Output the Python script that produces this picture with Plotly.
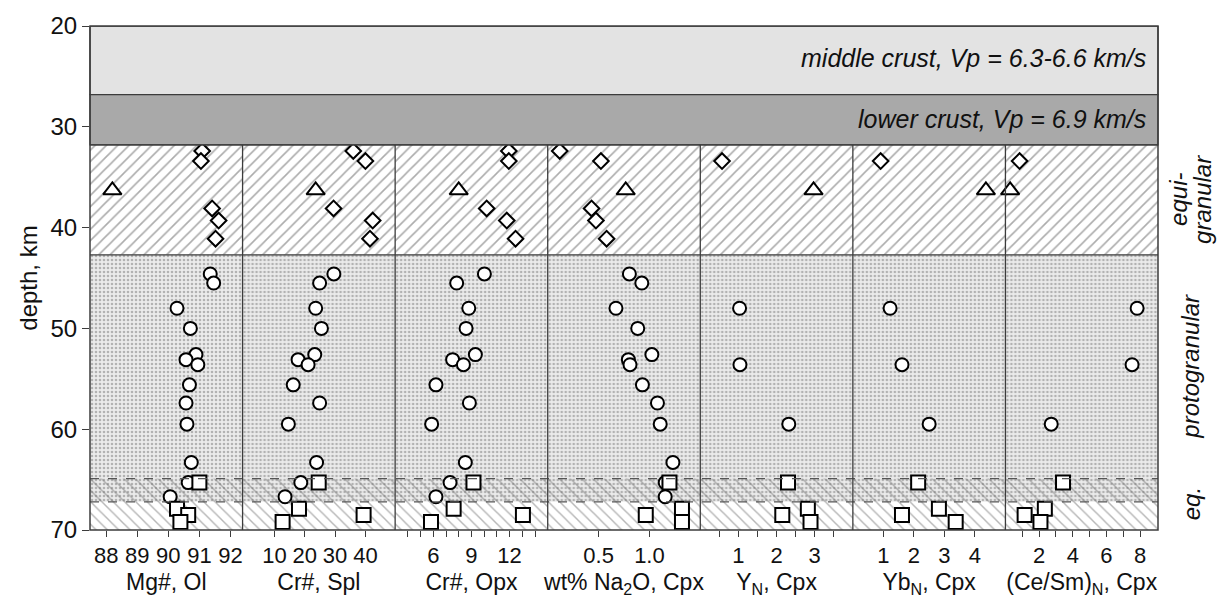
import plotly.graph_objects as go

# ---------------- data ----------------
# sample depths (km)
depth_eq = [32.4, 33.4, 38.1, 39.3, 41.1]          # equigranular (diamonds)
depth_tri = [36.3]                                  # triangle sample
depth_pg = [44.6, 45.5, 48.0, 50.0, 52.6, 53.1, 53.6, 55.6, 57.4, 59.5, 63.3, 65.3, 66.7]  # protogranular (circles)
depth_sq = [65.3, 67.9, 68.5, 69.2]                 # deepest equigranular (squares)
depth_te_eq = [33.4]
depth_te_pg = [48.0, 53.6, 59.5]

# Mg#, Ol
mg_eq = [91.09, 91.05, 91.41, 91.62, 91.52]
mg_tri = [88.2]
mg_pg = [91.35, 91.46, 90.28, 90.71, 90.89, 90.57, 90.95, 90.68, 90.57, 90.60, 90.74, 90.64, 90.06]
mg_sq = [91.0, 90.28, 90.64, 90.39]
# Cr#, Spl
crs_eq = [36.0, 40.0, 29.5, 42.4, 41.5]
crs_tri = [23.6]
crs_pg = [29.6, 24.9, 23.6, 25.5, 23.3, 17.8, 21.1, 16.2, 24.9, 14.6, 23.9, 18.7, 13.5]
crs_sq = [24.6, 18.1, 39.4, 12.7]
# Cr#, Opx
cro_eq = [11.94, 11.94, 10.2, 11.78, 12.47]
cro_tri = [8.0]
cro_pg = [10.02, 7.84, 8.79, 8.58, 9.31, 7.52, 8.37, 6.21, 8.84, 5.87, 8.52, 7.32, 6.21]
cro_sq = [9.16, 7.6, 13.05, 5.82]
# wt% Na2O, Cpx
na_eq = [0.118, 0.523, 0.431, 0.474, 0.579]
na_tri = [0.767]
na_pg = [0.803, 0.925, 0.671, 0.885, 1.024, 0.793, 0.809, 0.931, 1.079, 1.106, 1.231, 1.155, 1.155]
na_sq = [1.197, 1.32, 0.964, 1.32]
# Y_N, Cpx
y_eq = [0.57]
y_tri = [2.97]
y_pg = [1.03, 1.04, 2.32]
y_sq = [2.30, 2.82, 2.15, 2.89]
# Yb_N, Cpx
yb_eq = [0.91]
yb_tri = [4.36]
yb_pg = [1.22, 1.61, 2.50]
yb_sq = [2.14, 2.82, 1.61, 3.37]
# (Ce/Sm)_N, Cpx
ce_eq = [0.84]
ce_tri = [0.28]
ce_pg = [7.82, 7.52, 2.72]
ce_sq = [3.42, 2.34, 1.14, 2.08]

# zone boundaries (km)
zone_edges = [20, 26.8, 31.8, 42.7, 64.9, 67.2, 70]
crust_labels = ["middle crust, Vp = 6.3-6.6 km/s", "lower crust, Vp = 6.9 km/s"]
texture_labels = ["equi-", "granular", "protogranular", "eq."]

panel_titles = ["Mg#, Ol", "Cr#, Spl", "Cr#, Opx", "wt% Na<sub>2</sub>O, Cpx",
                "Y<sub>N</sub>, Cpx", "Yb<sub>N</sub>, Cpx", "(Ce/Sm)<sub>N</sub>, Cpx"]
y_title = "depth, km"
panel_ranges = [[87.48, 92.39], [-0.5, 49.8], [3, 15], [0, 1.5], [0, 4], [0, 5], [0, 9.06]]
panel_tickvals = [[88, 89, 90, 91, 92], [10, 20, 30, 40], [6, 9, 12], [0.5, 1.0],
                  [1, 2, 3], [1, 2, 3, 4], [2, 4, 6, 8]]
panel_ticktext = [["88", "89", "90", "91", "92"], ["10", "20", "30", "40"], ["6", "9", "12"],
                  ["0.5", "1.0"], ["1", "2", "3"], ["1", "2", "3", "4"], ["2", "4", "6", "8"]]
panel_minor = [[], [], [4, 5, 7, 8, 10, 11, 13, 14], [], [0.5, 1.5, 2.5, 3.5], [], [1, 3, 5, 7]]
y_ticks = [20, 30, 40, 50, 60, 70]

panels = [
    (mg_eq, depth_eq, mg_tri, mg_pg, depth_pg, mg_sq),
    (crs_eq, depth_eq, crs_tri, crs_pg, depth_pg, crs_sq),
    (cro_eq, depth_eq, cro_tri, cro_pg, depth_pg, cro_sq),
    (na_eq, depth_eq, na_tri, na_pg, depth_pg, na_sq),
    (y_eq, depth_te_eq, y_tri, y_pg, depth_te_pg, y_sq),
    (yb_eq, depth_te_eq, yb_tri, yb_pg, depth_te_pg, yb_sq),
    (ce_eq, depth_te_eq, ce_tri, ce_pg, depth_te_pg, ce_sq),
]

# ---------------- figure ----------------
FONT = "Liberation Sans, Arial, sans-serif"
LINE = "#3c3c3c"
TXT = "#111111"
fig = go.Figure()
n = len(panels)

for i, (eqv, eqd, triv, pgv, pgd, sqv) in enumerate(panels):
    xa = "x" if i == 0 else f"x{i+1}"
    lo, hi = panel_ranges[i]
    eq_c = (zone_edges[2] + zone_edges[3]) / 2
    eq_w = zone_edges[3] - zone_edges[2]
    pg_c = (zone_edges[3] + zone_edges[5]) / 2
    pg_w = zone_edges[5] - zone_edges[3]
    bs_c = (zone_edges[4] + zone_edges[6]) / 2
    bs_w = zone_edges[6] - zone_edges[4]
    fig.add_trace(go.Bar(orientation="h", y=[eq_c], x=[hi - lo], base=[lo], width=[eq_w],
                         xaxis=xa, yaxis="y", hoverinfo="skip", showlegend=False,
                         marker=dict(color="white", line=dict(width=0),
                                     pattern=dict(shape="/", fgcolor="#5a5a5a", bgcolor="white",
                                                  size=8, solidity=0.2))))
    fig.add_trace(go.Bar(orientation="h", y=[pg_c], x=[hi - lo], base=[lo], width=[pg_w],
                         xaxis=xa, yaxis="y", hoverinfo="skip", showlegend=False,
                         marker=dict(color="#ebebeb", line=dict(width=0),
                                     pattern=dict(shape=".", fgcolor="#7a7a7a", bgcolor="#ebebeb",
                                                  size=4, solidity=0.35))))
    fig.add_trace(go.Bar(orientation="h", y=[bs_c], x=[hi - lo], base=[lo], width=[bs_w],
                         xaxis=xa, yaxis="y", hoverinfo="skip", showlegend=False,
                         marker=dict(color="rgba(0,0,0,0)", line=dict(width=0),
                                     pattern=dict(shape="\\", fgcolor="#6e6e6e",
                                                  bgcolor="rgba(0,0,0,0)", size=8, solidity=0.18))))
    mk = dict(color="white", line=dict(color="black", width=2))
    fig.add_trace(go.Scatter(x=eqv, y=eqd, mode="markers", xaxis=xa, yaxis="y", cliponaxis=False,
                             marker=dict(symbol="diamond", size=12, **mk), showlegend=False, hoverinfo="skip"))
    fig.add_trace(go.Scatter(x=triv, y=depth_tri, mode="markers", xaxis=xa, yaxis="y", cliponaxis=False,
                             marker=dict(symbol="triangle-up", size=16, **mk), showlegend=False, hoverinfo="skip"))
    fig.add_trace(go.Scatter(x=pgv, y=pgd, mode="markers", xaxis=xa, yaxis="y", cliponaxis=False,
                             marker=dict(symbol="circle", size=13, **mk), showlegend=False, hoverinfo="skip"))
    fig.add_trace(go.Scatter(x=sqv, y=depth_sq, mode="markers", xaxis=xa, yaxis="y", cliponaxis=False,
                             marker=dict(symbol="square", size=14, **mk), showlegend=False, hoverinfo="skip"))

layout = dict(
    width=1224, height=603,
    margin=dict(l=90, r=66, t=21, b=73),
    paper_bgcolor="white", plot_bgcolor="white",
    barmode="overlay",
    font=dict(family=FONT, color=TXT, size=22),
    hovermode=False,
)
for i in range(n):
    key = "xaxis" if i == 0 else f"xaxis{i+1}"
    ax = dict(
        domain=[i / n, (i + 1) / n], range=panel_ranges[i], anchor="y",
        tickmode="array", tickvals=panel_tickvals[i], ticktext=panel_ticktext[i],
        ticks="outside", ticklen=6, tickwidth=1.3, tickcolor=LINE,
        showgrid=False, zeroline=False, showline=False,
        tickfont=dict(size=22, family=FONT, color=TXT),
        title=dict(text=panel_titles[i], standoff=6, font=dict(size=23, family=FONT, color=TXT)),
    )
    if panel_minor[i]:
        ax["minor"] = dict(tickmode="array", tickvals=panel_minor[i], ticks="outside",
                           ticklen=6, tickwidth=1.3, tickcolor=LINE, showgrid=False)
    layout[key] = ax
layout["yaxis"] = dict(
    domain=[0, 1], range=[70, 20], anchor="x",
    tickvals=y_ticks, ticks="outside", ticklen=7, tickwidth=1.3, tickcolor=LINE,
    showgrid=False, zeroline=False, showline=False,
    tickfont=dict(size=24, family=FONT, color=TXT),
    title=dict(text=y_title, standoff=6, font=dict(size=24, family=FONT, color=TXT)),
)
fig.update_layout(**layout)

shapes = []
shapes.append(dict(type="rect", xref="paper", yref="y", x0=0, x1=1, y0=zone_edges[0], y1=zone_edges[1],
                   fillcolor="#e3e3e3", line=dict(color=LINE, width=1.3), layer="above"))
shapes.append(dict(type="rect", xref="paper", yref="y", x0=0, x1=1, y0=zone_edges[1], y1=zone_edges[2],
                   fillcolor="#a9a9a9", line=dict(color=LINE, width=1.3), layer="above"))
for yv in (zone_edges[2], zone_edges[3]):
    shapes.append(dict(type="line", xref="paper", yref="y", x0=0, x1=1, y0=yv, y1=yv,
                       line=dict(color=LINE, width=1.3), layer="above"))
for yv in (zone_edges[4], zone_edges[5]):
    shapes.append(dict(type="line", xref="paper", yref="y", x0=0, x1=1, y0=yv, y1=yv,
                       line=dict(color="#555555", width=1.3, dash="dash"), layer="above"))
for k in range(1, n):
    shapes.append(dict(type="line", xref="paper", yref="y", x0=k / n, x1=k / n,
                       y0=zone_edges[2], y1=zone_edges[6], line=dict(color=LINE, width=1.3), layer="above"))
shapes.append(dict(type="rect", xref="paper", yref="paper", x0=0, x1=1, y0=0, y1=1,
                   line=dict(color=LINE, width=1.5), layer="above"))
fig.update_layout(shapes=shapes)

ann = []
ann.append(dict(text="<i>" + crust_labels[0] + "</i>", xref="paper", yref="y", x=1, xshift=-10,
                y=23.2, xanchor="right", yanchor="middle", showarrow=False,
                font=dict(size=25, family=FONT, color=TXT)))
ann.append(dict(text="<i>" + crust_labels[1] + "</i>", xref="paper", yref="y", x=1, xshift=-10,
                y=29.25, xanchor="right", yanchor="middle", showarrow=False,
                font=dict(size=25, family=FONT, color=TXT)))
eq_mid = (zone_edges[2] + zone_edges[3]) / 2
tex_y = [eq_mid, eq_mid, (zone_edges[3] + zone_edges[4]) / 2, (zone_edges[4] + zone_edges[6]) / 2]
tex_shift = [21, 45, 33, 33]
for t, yv, xs in zip(texture_labels, tex_y, tex_shift):
    ann.append(dict(text="<i>" + t + "</i>", xref="paper", yref="y", x=1, xshift=xs, y=yv,
                    textangle=-90, xanchor="center", yanchor="middle", showarrow=False,
                    align="center", font=dict(size=24, family=FONT, color=TXT)))
fig.update_layout(annotations=ann)

fig.write_html("out.html")
